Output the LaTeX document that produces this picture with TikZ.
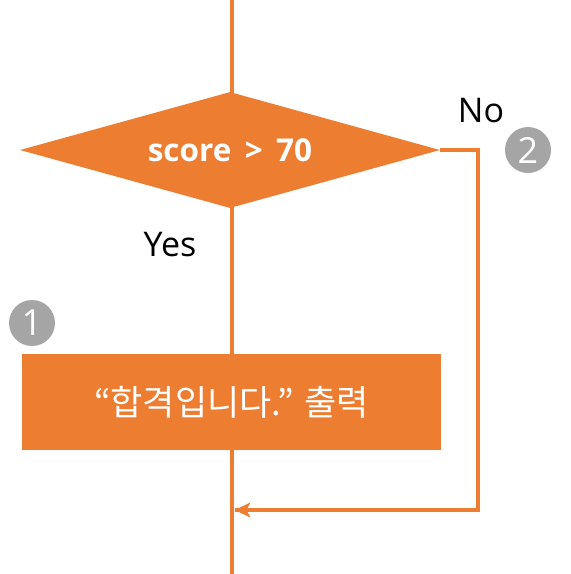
\documentclass[tikz,border=0pt]{standalone}
\usepackage{fontspec}
\setmainfont{Open Sans}
\newfontfamily\krfont{Noto Sans CJK KR}
\usetikzlibrary{shapes.geometric,arrows.meta}
\definecolor{flow}{HTML}{ED7D31}
\definecolor{badge}{HTML}{A5A5A5}
\tikzset{
  flowline/.style={draw=flow, line width=4.5pt},
  decision/.style={diamond, fill=flow, inner sep=0pt, aspect=3.62,
    minimum width=420pt, minimum height=116pt, text=white,
    font=\fontsize{31.5}{36}\selectfont\bfseries},
  procbox/.style={rectangle, fill=flow, inner sep=0pt,
    minimum width=419pt, minimum height=96pt, text=white,
    font=\krfont\fontsize{35}{40}\selectfont},
  badgenode/.style={circle, fill=badge, inner sep=0pt, minimum size=46pt,
    text=white, font=\fontsize{36}{40}\selectfont},
  lbl/.style={font=\fontsize{34}{40}\selectfont, text=black, inner sep=0pt},
}
\begin{document}
\begin{tikzpicture}[x=1pt,y=-1pt]
\useasboundingbox (0,0) rectangle (571,574);
\coordinate (top) at (232,-2);
\coordinate (bottom) at (232,576);
\coordinate (join) at (234.5,510);
\coordinate (corner1) at (478,150);
\coordinate (corner2) at (478,510);
\draw[flowline] (top) -- (bottom);
\node[decision] (cond) at (230,150) {score\, >\, 70};
\node[procbox] (out) at (231.5,402) {“합격입니다.” 출력};
\draw[flowline, line cap=butt] (cond.east) -- (corner1) -- (corner2)
  -- (join);
\draw[draw=none, fill=flow] (join) -- ++(16,-7.5) -- ++(-4,7.5) -- ++(4,7.5) -- cycle;
\node[lbl] (yes) at (170,245) {Yes};
\node[lbl] (no) at (481,111) {No};
\node[badgenode] (b1) at (32,323) {1};
\node[badgenode] (b2) at (528,150) {2};
\end{tikzpicture}
\end{document}
